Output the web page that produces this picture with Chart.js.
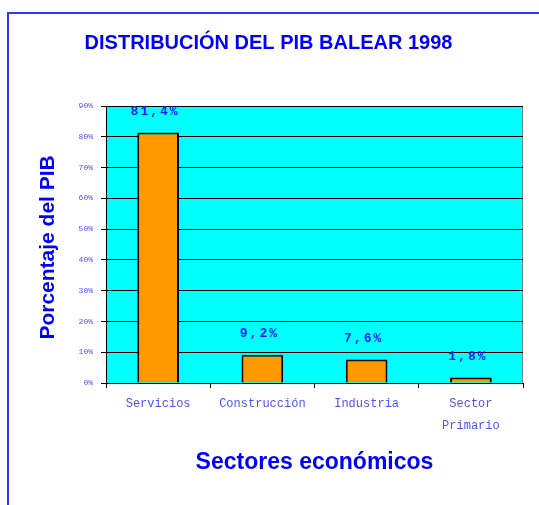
<!DOCTYPE html>
<html>
<head>
<meta charset="utf-8">
<script src="https://cdn.jsdelivr.net/npm/chart.js@4/dist/chart.umd.min.js"></script>
<style>
  html, body { margin: 0; padding: 0; background: #fff; }
  #wrap { position: relative; width: 539px; height: 505px; overflow: hidden; }
  #frame { position: absolute; left: 7px; top: 12px; width: 600px; height: 600px;
           border-top: 2px solid #3333ff; border-left: 2px solid #3333ff; }
  canvas { position: absolute; left: 0; top: 0; }
</style>
</head>
<body>
<div id="wrap">
  <div id="frame"></div>
  <canvas id="myChart" width="539" height="505"></canvas>
</div>
<script>
const sectores = ['Servicios', 'Construcción', 'Industria', ['Sector', 'Primario']];
const porcentajes = [81.4, 9.2, 7.6, 1.8];
const etiquetas = ['81,4%', '9,2%', '7,6%', '1,8%'];

const AZUL = '#0000ff';
const AZUL_CLARO = '#5050ff';

// fondo cian del área de trazado
const fondoPlot = {
  id: 'fondoPlot',
  beforeDraw(chart) {
    const { ctx, chartArea: a } = chart;
    ctx.save();
    ctx.fillStyle = '#00ffff';
    ctx.fillRect(a.left, a.top, a.right - a.left, a.bottom - a.top);
    ctx.strokeStyle = '#808080';
    ctx.lineWidth = 1;
    ctx.strokeRect(a.left + 0.5, a.top + 0.5, a.right - a.left - 1, a.bottom - a.top);
    ctx.restore();
  }
};

// porcentaje encima de cada barra
const etiquetasBarras = {
  id: 'etiquetasBarras',
  afterDatasetsDraw(chart) {
    const { ctx } = chart;
    const meta = chart.getDatasetMeta(0);
    ctx.save();
    ctx.font = 'bold 13px "Liberation Mono"';
    ctx.letterSpacing = '2px';
    ctx.fillStyle = '#1a1aff';
    ctx.textAlign = 'center';
    ctx.textBaseline = 'middle';
    meta.data.forEach((bar, i) => {
      ctx.fillText(etiquetas[i], bar.x - 3, bar.y - 21);
    });
    ctx.restore();
  }
};

const ctx = document.getElementById('myChart').getContext('2d');
new Chart(ctx, {
  type: 'bar',
  data: {
    labels: sectores,
    datasets: [{
      data: porcentajes,
      backgroundColor: '#ff9900',
      borderColor: '#000000',
      borderWidth: 2,
      categoryPercentage: 1,
      barPercentage: 0.4
    }]
  },
  options: {
    responsive: false,
    animation: false,
    layout: { padding: { left: 14, right: 16, top: 0, bottom: 0 } },
    plugins: {
      legend: { display: false },
      tooltip: { enabled: false },
      title: {
        display: true,
        text: 'DISTRIBUCIÓN DEL PIB BALEAR 1998',
        color: AZUL,
        font: { family: '"Liberation Sans", Arial', size: 20, weight: 'bold', lineHeight: 1.2 },
        padding: { top: 31, bottom: 51 }
      }
    },
    scales: {
      x: {
        grid: { display: true, drawOnChartArea: false, color: '#000', tickLength: 5, offset: true },
        border: { color: '#000', width: 1 },
        ticks: {
          color: AZUL_CLARO,
          font: { family: '"Liberation Mono", monospace', size: 12, lineHeight: 1.8 },
          padding: 5,
          maxRotation: 0
        },
        title: {
          display: true,
          text: 'Sectores económicos',
          color: AZUL,
          font: { family: '"Liberation Sans", Arial', size: 23, weight: 'bold', lineHeight: 1.2 },
          padding: { top: 0, bottom: 29 }
        },
        afterFit(scale) { scale.height = 122; }
      },
      y: {
        min: 0,
        max: 90,
        grid: { color: '#000', tickLength: 5 },
        border: { color: '#000', width: 1 },
        ticks: {
          stepSize: 10,
          color: AZUL_CLARO,
          font: { family: '"Liberation Mono", monospace', size: 8 },
          padding: 8,
          callback: v => v + '%'
        },
        title: {
          display: true,
          text: 'Porcentaje del PIB ',
          color: AZUL,
          font: { family: '"Liberation Sans", Arial', size: 21, weight: 'bold', lineHeight: 1.2 },
          padding: { top: 22, bottom: 0 }
        },
        afterFit(scale) { scale.width = 92; }
      }
    }
  },
  plugins: [fondoPlot, etiquetasBarras]
});
</script>
</body>
</html>
